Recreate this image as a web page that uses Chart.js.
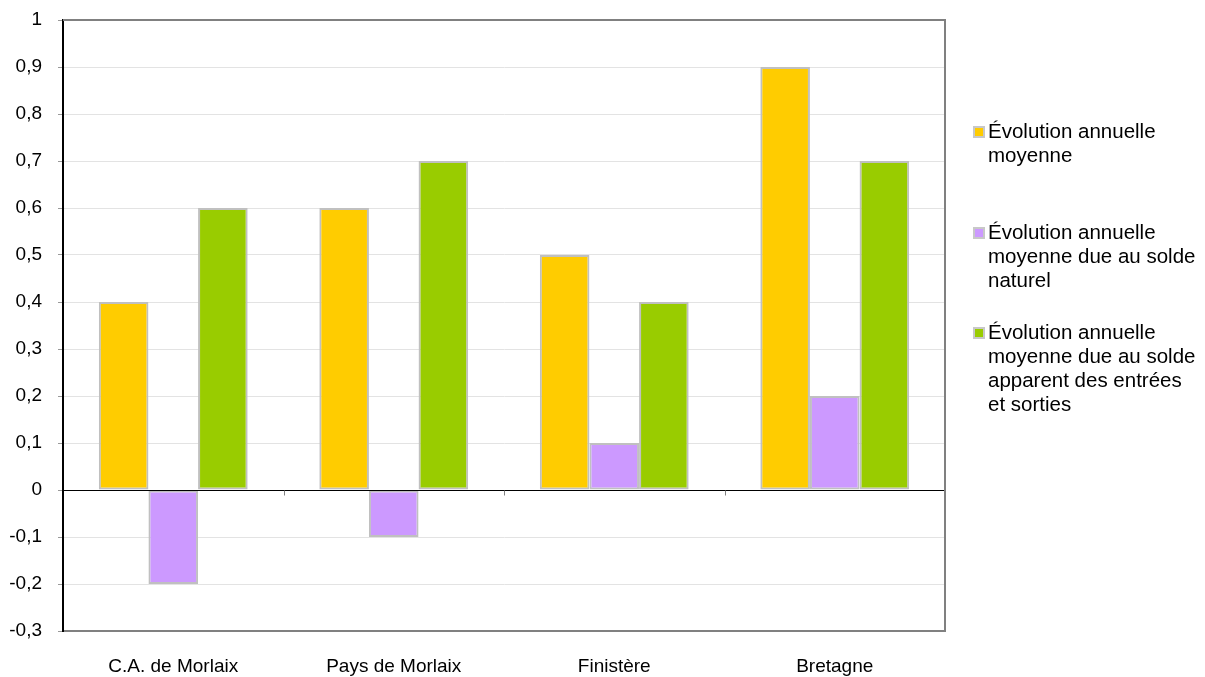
<!DOCTYPE html>
<html>
<head>
<meta charset="utf-8">
<script src="https://cdn.jsdelivr.net/npm/chart.js@4"></script>
<style>
  html, body { margin: 0; padding: 0; background: #fff; }
  #wrap { position: relative; width: 1205px; height: 677px; }
  #c { position: absolute; left: 0; top: 0; }
  .lg { position: absolute; left: 988px; font-family: Arial, "Liberation Sans", sans-serif; font-size: 20.5px; line-height: 24px; color: #000; width: 217px; white-space: nowrap; }
  .sq { position: absolute; left: -15px; top: 7px; width: 8px; height: 8px; border: 2px solid #C8C8C8; }
</style>
</head>
<body>
<div id="wrap">
  <canvas id="c" width="1205" height="677"></canvas>
</div>
<script>
const categories = ["C.A. de Morlaix", "Pays de Morlaix", "Finistère", "Bretagne"];
const seriesNames = [
  ["Évolution annuelle", "moyenne"],
  ["Évolution annuelle", "moyenne due au solde", "naturel"],
  ["Évolution annuelle", "moyenne due au solde", "apparent des entrées", "et sorties"]
];
const evolutionMoyenne = [0.4, 0.6, 0.5, 0.9];
const soldeNaturel = [-0.2, -0.1, 0.1, 0.2];
const soldeMigratoire = [0.6, 0.7, 0.4, 0.7];
const seriesColors = ["#FFCC00", "#CC99FF", "#99CC00"];
const yMin = -0.3, yMax = 1, yStep = 0.1;
const legendTops = [119, 220, 320];

const values = [evolutionMoyenne, soldeNaturel, soldeMigratoire];

const frame = {
  id: 'frame',
  afterDatasetsDraw(chart) {
    const ctx = chart.ctx, a = chart.chartArea, x = chart.scales.x, y = chart.scales.y;
    const y0 = Math.round(y.getPixelForValue(0)) + 0.5;
    ctx.save();
    ctx.strokeStyle = '#000'; ctx.lineWidth = 1;
    ctx.beginPath(); ctx.moveTo(a.left, y0); ctx.lineTo(a.right, y0); ctx.stroke();
    ctx.strokeStyle = '#808080';
    for (let i = 1; i < categories.length; i++) {
      const px = Math.round((x.getPixelForValue(i - 1) + x.getPixelForValue(i)) / 2) + 0.5;
      ctx.beginPath(); ctx.moveTo(px, y0); ctx.lineTo(px, y0 + 5); ctx.stroke();
    }
    ctx.strokeStyle = '#808080'; ctx.lineWidth = 2;
    ctx.beginPath();
    ctx.moveTo(a.left, a.top); ctx.lineTo(a.right, a.top); ctx.lineTo(a.right, a.bottom);
    ctx.stroke();
    ctx.restore();
  }
};

const axisFont = { family: 'Arial, "Liberation Sans"', size: 19 };

const chart = new Chart(document.getElementById('c'), {
  type: 'bar',
  data: {
    labels: categories,
    datasets: values.map((v, i) => ({
      label: seriesNames[i].join(' '),
      data: v,
      backgroundColor: seriesColors[i],
      borderColor: '#C0C0C0',
      borderWidth: 2,
      borderSkipped: false,
      categoryPercentage: 0.675,
      barPercentage: 1
    }))
  },
  options: {
    responsive: false,
    animation: false,
    devicePixelRatio: 1,
    layout: { padding: { left: 0, right: 260, top: 20, bottom: 0 } },
    plugins: { legend: { display: false }, tooltip: { enabled: false } },
    scales: {
      x: {
        grid: { display: false, drawTicks: false },
        border: { display: true, color: '#808080', width: 2 },
        ticks: { color: '#000', font: axisFont, padding: 24, maxRotation: 0 },
        afterFit(s) { s.height = 46; s.paddingLeft = 0; s.paddingRight = 0; }
      },
      y: {
        min: yMin, max: yMax,
        ticks: {
          stepSize: yStep,
          color: '#000',
          font: axisFont,
          padding: 16,
          callback: (v) => {
            let s = (Math.round(v * 10) / 10).toFixed(1);
            if (s === '1.0') s = '1';
            if (s === '0.0' || s === '-0.0') s = '0';
            return s.replace('.', ',');
          }
        },
        grid: {
          color: '#E3E3E3',
          tickColor: '#999',
          tickLength: 5,
          drawOnChartArea: true
        },
        border: { display: true, color: '#000', width: 2 },
        afterFit(s) { s.width = 63; s.paddingTop = 0; s.paddingBottom = 0; }
      }
    }
  },
  plugins: [frame]
});

const wrap = document.getElementById('wrap');
seriesNames.forEach((lines, i) => {
  const d = document.createElement('div');
  d.className = 'lg';
  d.style.top = legendTops[i] + 'px';
  const sq = document.createElement('div');
  sq.className = 'sq';
  sq.style.background = seriesColors[i];
  d.appendChild(sq);
  lines.forEach((t, k) => {
    if (k) d.appendChild(document.createElement('br'));
    d.appendChild(document.createTextNode(t));
  });
  wrap.appendChild(d);
});
</script>
</body>
</html>
